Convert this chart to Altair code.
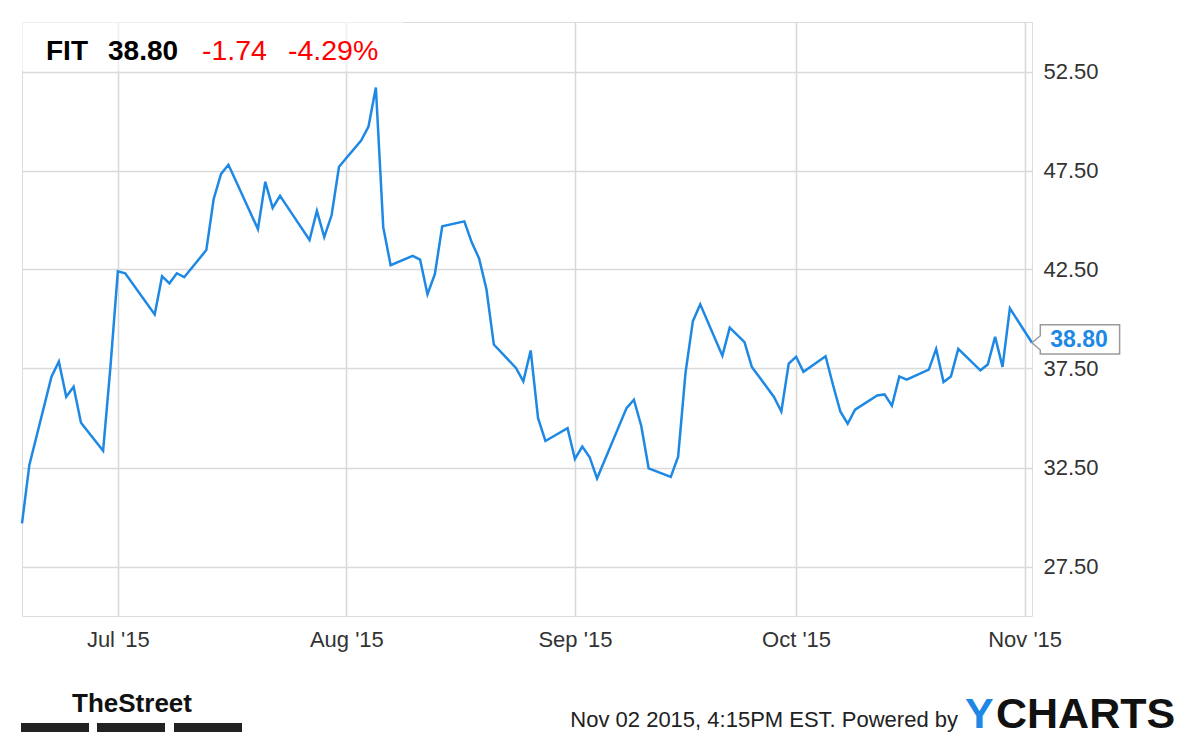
import altair as alt
import pandas as pd

# ---- data ----
dates = [
    "2015-06-18", "2015-06-19", "2015-06-22", "2015-06-23", "2015-06-24", "2015-06-25", "2015-06-26",
    "2015-06-29", "2015-06-30", "2015-07-01", "2015-07-02", "2015-07-06", "2015-07-07", "2015-07-08",
    "2015-07-09", "2015-07-10", "2015-07-13", "2015-07-14", "2015-07-15", "2015-07-16", "2015-07-17",
    "2015-07-20", "2015-07-21", "2015-07-22", "2015-07-23", "2015-07-24", "2015-07-27", "2015-07-28",
    "2015-07-29", "2015-07-30", "2015-07-31", "2015-08-03", "2015-08-04", "2015-08-05", "2015-08-06",
    "2015-08-07", "2015-08-10", "2015-08-11", "2015-08-12", "2015-08-13", "2015-08-14", "2015-08-17",
    "2015-08-18", "2015-08-19", "2015-08-20", "2015-08-21", "2015-08-24", "2015-08-25", "2015-08-26",
    "2015-08-27", "2015-08-28", "2015-08-31", "2015-09-01", "2015-09-02", "2015-09-03", "2015-09-04",
    "2015-09-08", "2015-09-09", "2015-09-10", "2015-09-11", "2015-09-14", "2015-09-15", "2015-09-16",
    "2015-09-17", "2015-09-18", "2015-09-21", "2015-09-22", "2015-09-23", "2015-09-24", "2015-09-25",
    "2015-09-28", "2015-09-29", "2015-09-30", "2015-10-01", "2015-10-02", "2015-10-05", "2015-10-06",
    "2015-10-07", "2015-10-08", "2015-10-09", "2015-10-12", "2015-10-13", "2015-10-14", "2015-10-15",
    "2015-10-16", "2015-10-19", "2015-10-20", "2015-10-21", "2015-10-22", "2015-10-23", "2015-10-26",
    "2015-10-27", "2015-10-28", "2015-10-29", "2015-10-30", "2015-11-02",
]
prices = [
    29.68, 32.63, 37.09, 37.85, 36.07, 36.58, 34.76,
    33.34, 37.60, 42.41, 42.31, 40.23, 42.16, 41.80,
    42.31, 42.11, 43.48, 46.06, 47.33, 47.79, 46.98,
    44.54, 46.93, 45.61, 46.22, 45.66, 43.99, 45.46,
    44.14, 45.25, 47.69, 49.01, 49.72, 51.69, 44.64,
    42.72, 43.19, 43.00, 41.25, 42.26, 44.68, 44.93,
    43.87, 43.06, 41.50, 38.71, 37.53, 36.85, 38.41,
    34.99, 33.84, 34.49, 32.93, 33.56, 33.02, 31.95,
    35.50, 35.92, 34.60, 32.46, 32.03, 33.05, 37.28,
    39.89, 40.74, 38.15, 39.56, 39.20, 38.83, 37.58,
    36.06, 35.33, 37.75, 38.09, 37.33, 38.12, 36.68,
    35.33, 34.71, 35.42, 36.14, 36.19, 35.62, 37.10,
    36.94, 37.44, 38.49, 36.82, 37.10, 38.49, 37.41,
    37.70, 39.10, 37.58, 40.54, 38.80,
]
y_ticks = [27.5, 32.5, 37.5, 42.5, 47.5, 52.5]
x_ticks = [(2015, 7, 1), (2015, 8, 1), (2015, 9, 1), (2015, 10, 1), (2015, 11, 1)]
ticker = "FIT"
last_price = "38.80"
change = "-1.74"
change_pct = "-4.29%"
footer_text = "Nov 02 2015, 4:15PM EST. Powered by"

df = pd.DataFrame({"date": dates, "price": prices})

FONT = "Liberation Sans, Arial, Helvetica, sans-serif"
BLUE = "#1e88e5"

W, H = 1010, 594


def dt(y, m, d):
    return alt.DateTime(year=y, month=m, date=d, utc=True)


x_enc = alt.X(
    "date:T",
    scale=alt.Scale(type="utc", domain=[dt(2015, 6, 18), dt(2015, 11, 2)]),
    axis=alt.Axis(
        values=[dt(*t) for t in x_ticks],
        labelExpr="utcFormat(datum.value, \"%b '%y\")",
        title=None,
        tickSize=0,
        domain=False,
        labelFontSize=22,
        labelPadding=13,
        labelColor="#333333",
        labelFont=FONT,
        grid=True,
        gridColor="#d9d9d9",
        gridWidth=1.6,
    ),
)
y_enc = alt.Y(
    "price:Q",
    scale=alt.Scale(domain=[25, 55], nice=False, zero=False),
    axis=alt.Axis(
        orient="right",
        values=y_ticks,
        format=".2f",
        title=None,
        tickSize=0,
        domain=False,
        labelFontSize=22,
        labelPadding=11,
        labelColor="#333333",
        labelFont=FONT,
        grid=True,
        gridColor="#d9d9d9",
        gridWidth=1.6,
    ),
)

line = alt.Chart(df).mark_line(color=BLUE, strokeWidth=2.5).encode(x=x_enc, y=y_enc)

last = df.tail(1)
callout_path = (
    "M0,0 L0.083,-0.07 L0.083,-0.18 L0.876,-0.18 L0.876,0.113 "
    "L0.083,0.113 L0.083,0.073 Z"
)
callout_box = alt.Chart(last).mark_point(
    shape=callout_path, size=40000, filled=True, fill="white",
    stroke="#9a9a9a", strokeWidth=1.5, opacity=1,
).encode(x="date:T", y="price:Q")
callout_text = alt.Chart(last).mark_text(
    align="center", baseline="middle", dx=47, dy=-3,
    fontSize=23, fontWeight="bold", color=BLUE, font=FONT,
).encode(x="date:T", y="price:Q", text=alt.Text("price:Q", format=".2f"))


def label(text, x, y, size, color="#000000", weight="normal", align="left", font=FONT):
    return alt.Chart(pd.DataFrame({"t": [text]})).mark_text(
        align=align, baseline="alphabetic", fontSize=size, fontWeight=weight,
        color=color, font=font,
    ).encode(x=alt.value(x), y=alt.value(y), text="t:N")


def box(x, x2, y, y2, color, opacity=1.0):
    return alt.Chart(pd.DataFrame({"k": [0]})).mark_rect(
        color=color, opacity=opacity
    ).encode(x=alt.value(x), x2=alt.value(x2), y=alt.value(y), y2=alt.value(y2))


header_box = box(0, 381, 0, 49, "#ffffff", 0.55)
header = [
    label(ticker, 24, 37.5, 28, weight="bold"),
    label(last_price, 86, 37.5, 28, weight="bold"),
    label(change, 180, 37.5, 28.5, color="#ff0000"),
    label(change_pct, 266, 37.5, 28.5, color="#ff0000"),
]

footer = [
    label("TheStreet", 110, 690, 26, color="#111111", weight="bold", align="center"),
    box(-1, 67, 701, 710, "#222222"),
    box(75, 143, 701, 710, "#222222"),
    box(152, 220, 701, 710, "#222222"),
    label(footer_text, 936, 705, 22, color="#222222", align="right"),
    label("Y", 943, 706, 43, color=BLUE, weight="bold"),
    label("CHARTS", 974, 706, 43, color="#111111", weight="bold"),
]

chart = alt.layer(
    line, header_box, *header, callout_box, callout_text, *footer
).properties(
    width=W,
    height=H,
    autosize=alt.AutoSizeParams(type="none"),
    padding={"left": 14, "top": 14, "right": 160, "bottom": 123},
    background="white",
).configure_view(
    fill="#f6f6f6", stroke="#9a9a9a", strokeWidth=1.6
).configure(font=FONT)

chart.save("out.html", embed_options={"renderer": "svg", "actions": False})
